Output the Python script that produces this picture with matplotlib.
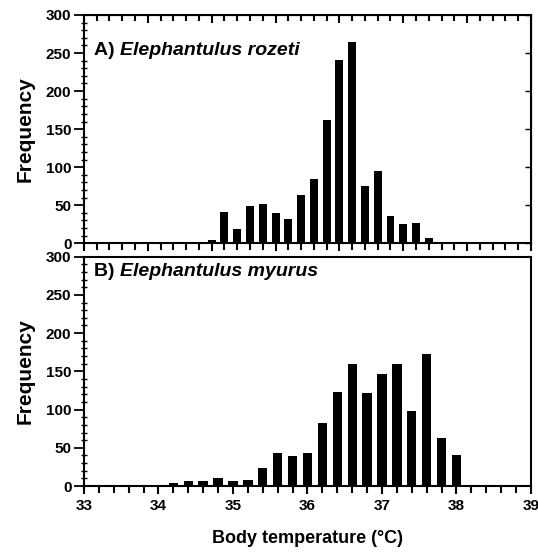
import matplotlib
matplotlib.use("Agg")
import matplotlib.pyplot as plt
from matplotlib.ticker import MultipleLocator

plt.rcParams['font.family'] = ['Liberation Sans', 'DejaVu Sans']
plt.rcParams['font.weight'] = 'bold'

# body temperature bins (deg C) and counts
temp_a = [35.0, 35.2, 35.4, 35.6, 35.8, 36.0, 36.2, 36.4, 36.6, 36.8, 37.0,
          37.2, 37.4, 37.6, 37.8, 38.0, 38.2, 38.4, 38.6, 38.8]
freq_a = [5, 41, 19, 49, 52, 40, 32, 64, 85, 162, 241,
          265, 75, 95, 36, 26, 27, 7, 1, 1]

temp_b = [34.2, 34.4, 34.6, 34.8, 35.0, 35.2, 35.4, 35.6, 35.8, 36.0, 36.2,
          36.4, 36.6, 36.8, 37.0, 37.2, 37.4, 37.6, 37.8, 38.0, 38.2]
freq_b = [4, 6, 6, 10, 7, 8, 24, 43, 39, 43, 82,
          123, 160, 122, 146, 159, 98, 173, 63, 41, 1]

x_ticks = [33, 34, 35, 36, 37, 38, 39]

fig = plt.figure(figsize=(5.38, 5.55), dpi=100)
ax1 = fig.add_axes([0.156, 0.5616, 0.831, 0.4114])
ax2 = fig.add_axes([0.156, 0.1243, 0.831, 0.4132])

ax1.bar(temp_a, freq_a, width=0.125, color='black')
ax2.bar(temp_b, freq_b, width=0.125, color='black')

for ax in (ax1, ax2):
    ax.set_ylim(0, 300)
    ax.yaxis.set_major_locator(MultipleLocator(50))
    ax.yaxis.set_minor_locator(MultipleLocator(10))
    ax.xaxis.set_minor_locator(MultipleLocator(0.2))
    for s in ax.spines.values():
        s.set_linewidth(1.5)
    ax.tick_params(axis='y', which='major', direction='out', length=7, width=1.3,
                   labelsize=11, pad=2)
    ax.tick_params(axis='y', which='minor', direction='inout', length=4, width=1)
    ax.tick_params(axis='x', which='major', direction='out', length=6, width=1.5,
                   labelsize=11)
    ax.tick_params(axis='x', which='minor', direction='out', length=5, width=1.5)
    ax.set_ylabel('Frequency', fontsize=15, fontweight='bold', labelpad=8)
    for lab in ax.get_yticklabels():
        lab.set_fontweight('bold')

ax1.set_xlim(33, 40)
ax1.xaxis.set_major_locator(MultipleLocator(1))
ax1.tick_params(axis='x', which='both', labelbottom=False)

# inward ticks on the top and right spines of panel A
top = ax1.secondary_xaxis('top')
top.xaxis.set_major_locator(MultipleLocator(1))
top.xaxis.set_minor_locator(MultipleLocator(0.2))
top.tick_params(which='both', direction='in', labeltop=False, width=1.5)
top.tick_params(which='major', length=6)
top.tick_params(which='minor', length=4)
right = ax1.secondary_yaxis('right')
right.yaxis.set_major_locator(MultipleLocator(50))
right.tick_params(direction='in', labelright=False, length=4, width=1)

ax2.set_xlim(33, 39)
ax2.set_xticks(x_ticks)
ax2.set_xticklabels([str(t) for t in x_ticks], fontweight='bold')
ax2.set_xlabel('Body temperature (°C)', fontsize=13, fontweight='bold', labelpad=12)


def label(ax, y, tag, name):
    t = ax.text(0.022, y, tag + ' ', transform=ax.transAxes, fontsize=14,
                fontweight='bold', va='center', ha='left')
    fig.canvas.draw()
    bb = t.get_window_extent().transformed(ax.transAxes.inverted())
    ax.text(bb.x1, y, name, transform=ax.transAxes, fontsize=14,
            fontweight='bold', style='italic', va='center', ha='left')


label(ax1, 0.846, 'A)', 'Elephantulus rozeti')
label(ax2, 0.934, 'B)', 'Elephantulus myurus')

fig.savefig('out.png', dpi=100)
